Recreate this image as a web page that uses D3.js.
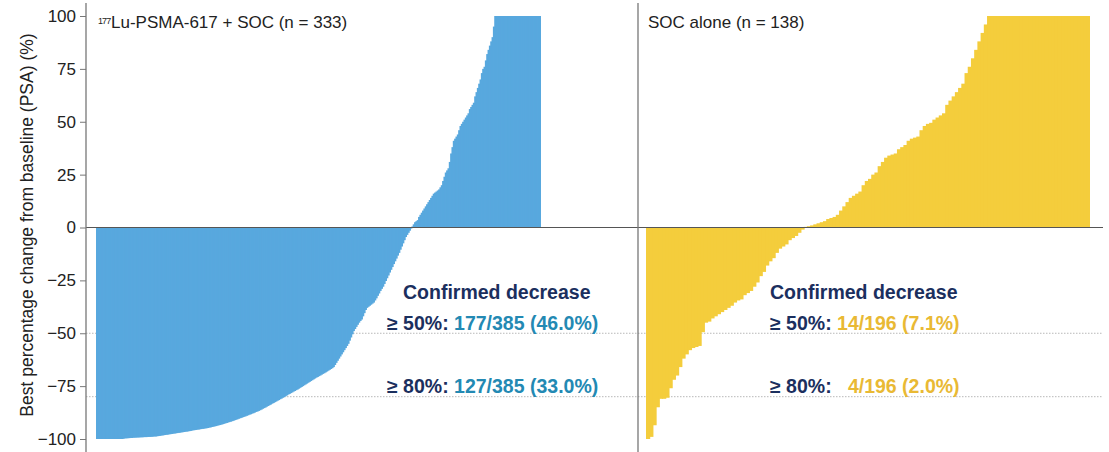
<!DOCTYPE html>
<meta charset="utf-8">
<script src="https://d3js.org/d3.v7.min.js"></script>
<style>
body { margin: 0; background: #fff; }
text { font-family: "Liberation Sans", Arial, sans-serif; }
</style>
<div id="chart"></div>
<script>

// best % change in PSA per patient, sorted low to high
var luValues = [
  -100,-100,-100,-100,-100,-100,-100,-100,-100,-100,-100,-100,-100,-100,-100,-100,-100,-100,-100,-100,
  -99.8,-99.7,-99.7,-99.6,-99.6,-99.5,-99.5,-99.4,-99.4,-99.3,-99.3,-99.3,-99.2,-99.2,-99.2,-99.1,-99.1,-99.1,-99.0,-99.0,-99.0,-98.9,-98.9,-98.8,-98.8,-98.7,
  -98.6,-98.5,-98.4,-98.3,-98.2,-98.1,-98.0,-97.9,-97.8,-97.7,-97.6,-97.5,-97.4,-97.3,-97.2,-97.1,-97.0,-96.9,-96.8,
  -96.7,-96.6,-96.5,-96.4,-96.3,-96.2,-96.0,-95.9,-95.8,-95.7,-95.6,-95.5,-95.4,-95.3,-95.2,-95.1,-95.0,-94.9,
  -94.8,-94.6,-94.5,-94.3,-94.2,-94.0,-93.9,-93.7,-93.5,-93.4,-93.2,-93.0,-92.8,-92.6,-92.4,-92.2,-92.0,
  -91.8,-91.6,-91.4,-91.1,-90.9,-90.7,-90.4,-90.2,-90.0,-89.7,-89.5,-89.3,-89.0,-88.8,-88.5,-88.3,-88.0,-87.8,-87.5,-87.2,
  -87.0,-86.7,-86.4,-86.1,-85.7,-85.4,-85.1,-84.7,-84.4,-84.0,-83.7,-83.3,
  -83.0,-82.6,-82.3,-81.9,-81.6,-81.2,-80.9,-80.5,-80.2,-79.8,-79.4,
  -79.0,-78.7,-78.3,-78.0,-77.6,-77.3,-76.9,-76.6,-76.2,-75.8,
  -75.4,-75.0,-74.6,-74.2,-73.8,-73.4,-73.0,-72.6,-72.2,-71.8,-71.4,-71.0,
  -70.7,-70.3,-70.0,-69.6,-69.2,-68.9,-68.5,-68.1,-67.7,-67.3,-66.9,-66.5,
  -66,-65,-64,-63,-62,-61,
  -60,-59,-58,-57,-56,
  -55,-53.5,-52,-50.5,
  -49,-48,-47,-46,-45,-44.2,
  -43.5,-42,-40.5,-39,-38,
  -37.5,-37,-36.5,-36,
  -35.5,-34.5,-33.5,-32.3,-31.2,-30,-29,
  -28,-26.7,-25.3,-24,-22.7,-21.3,
  -20,-18.7,-17.3,-16,-14.7,-13.3,
  -12,-10.5,-9,-7.5,-6,
  -4.5,-3.5,-2.5,-1.5,-0.5,
  0.5,1.5,2.5,3,
  3.5,5,6,7,
  8,9,10,11,
  12,13,14,15,16,16.5,17,17.5,18,
  19,20,22,24,26,27,
  28,31,35,38,
  41,42,43,44,46,
  48,49,50,51,52,53,
  54,56,57,58,
  59,62,64,
  66,68,70,73,75,
  76,79,82,
  84,86,
  88,90,
  95,
  100,100,100,100,100,100,100,100,100,100,100,100,100,100,100,100,100,100,100,100,
  100,100,100,100,100,100,100,100,100,100,100,100,100,100,100
];

var socValues = [
  -100,-99,-93.5,-85,-81,-81,-80.5,-76,-72,-70,
  -66,-62,-60,-58,-57,-56.5,-56,-49.5,-45,-44.5,
  -43,-42,-41,-40,-39,-38,-37,-35.5,-34.5,-34,
  -32,-31,-30,-28,-26,-23,-21,-18,-16,-14.5,
  -12,-10,-9,-8,-6,-5,-4,-2.5,-1,0.3,
  0.6,1,1.5,2,2.5,3,4,4.5,5,6,
  8,10,12,14,15,16,17,20,22,23,
  25,26,29,31,33,34,34.5,35,37,38,
  39,41,42,42.5,43,46,48,49,49.5,51,
  52,53,54,58,60,62,64,66,68,73,
  76,80,84,88,92,96,100,100,100,100,
  100,100,100,100,100,100,100,100,100,100,
  100,100,100,100,100,100,100,100,100,100,
  100,100,100,100,100,100,100,100
];

var yTicks = [-100, -75, -50, -25, 0, 25, 50, 75, 100];
var thresholds = [-50, -80];
var thresholdLabels = ["\u2265 50%:", "\u2265 80%:"];
var luResults = ["177/385 (46.0%)", "127/385 (33.0%)"];
var socResults = ["14/196 (7.1%)", "\u20074/196 (2.0%)"];

var width = 1109,
    height = 452;

var blue = "#58a8de",
    yellow = "#f4cd3c",
    navy = "#1b2f5e",
    teal = "#2389b3",
    gold = "#e9b934";

var svg = d3.select("#chart")
  .append("svg")
    .attr("width", width)
    .attr("height", height);

var y = d3.scaleLinear().domain([-100, 100]).range([439, 16]);

var xLu = d3.scaleBand().domain(d3.range(luValues.length)).range([96, 541]);
var xSoc = d3.scaleBand().domain(d3.range(socValues.length)).range([646, 1090]);

// dotted threshold lines
svg.selectAll(".thr")
  .data(thresholds)
  .enter()
  .append("line")
    .attr("x1", 86)
    .attr("x2", 1103)
    .attr("y1", function(d) { return y(d); })
    .attr("y2", function(d) { return y(d); })
    .attr("stroke", "#b8b8b8")
    .attr("stroke-width", 1)
    .attr("stroke-dasharray", "1.5,1.5");

// bars overlap the next one by 1px so no seams show between them
function drawBars(values, x, color) {
  var n = values.length;
  svg.append("g")
    .selectAll("rect")
    .data(values)
    .enter()
    .append("rect")
      .attr("x", function(d, i) { return x(i); })
      .attr("width", function(d, i) { return x.bandwidth() + (i < n - 1 ? 1 : 0); })
      .attr("y", function(d) { return Math.min(y(d), y(0)); })
      .attr("height", function(d) { return Math.abs(y(d) - y(0)); })
      .attr("fill", color);
}

drawBars(luValues, xLu, blue);
drawBars(socValues, xSoc, yellow);

// zero line
svg.append("line")
  .attr("x1", 86).attr("x2", 1103)
  .attr("y1", y(0)).attr("y2", y(0))
  .attr("stroke", "#555")
  .attr("stroke-width", 1.2);

// y axis
var yAxis = svg.append("g")
  .attr("transform", "translate(86,0)")
  .call(d3.axisLeft(y).tickValues(yTicks).tickSize(6).tickPadding(4));
yAxis.select(".domain").remove();
yAxis.selectAll(".tick line").attr("stroke", "#777");
yAxis.selectAll(".tick text")
  .attr("font-size", 17)
  .attr("font-family", "Liberation Sans, Arial, sans-serif")
  .attr("fill", "#222");

// axis line and panel divider
[86, 638].forEach(function(xx) {
  svg.append("line")
    .attr("x1", xx).attr("x2", xx)
    .attr("y1", 3).attr("y2", height)
    .attr("stroke", "#777")
    .attr("stroke-width", 1.3);
});

svg.append("text")
  .attr("transform", "translate(33,225) rotate(-90)")
  .attr("text-anchor", "middle")
  .attr("font-size", 17.5)
  .attr("fill", "#222")
  .text("Best percentage change from baseline (PSA) (%)");

// panel titles
svg.append("text")
  .attr("x", 98).attr("y", 24)
  .attr("font-size", 9)
  .attr("letter-spacing", -0.9)
  .attr("fill", "#222")
  .text("177");
svg.append("text")
  .attr("x", 111).attr("y", 28)
  .attr("font-size", 17)
  .attr("fill", "#222")
  .text("Lu-PSMA-617 + SOC (n = 333)");
svg.append("text")
  .attr("x", 648).attr("y", 28)
  .attr("font-size", 17)
  .attr("fill", "#222")
  .text("SOC alone (n = 138)");

// confirmed decrease notes
function drawNote(xHead, xLines, results, color) {
  svg.append("text")
    .attr("x", xHead).attr("y", 299)
    .attr("font-size", 19.5)
    .attr("font-weight", "bold")
    .attr("fill", navy)
    .text("Confirmed decrease");

  var rows = [330, 393];
  rows.forEach(function(yy, k) {
    var t = svg.append("text")
      .attr("x", xLines).attr("y", yy)
      .attr("font-size", 19.5)
      .attr("font-weight", "bold")
      .attr("fill", navy)
      .style("white-space", "pre");
    t.append("tspan").text(thresholdLabels[k] + " ");
    t.append("tspan").attr("fill", color).text(results[k]);
  });
}

drawNote(403, 387, luResults, teal);
drawNote(770, 770, socResults, gold);

</script>
